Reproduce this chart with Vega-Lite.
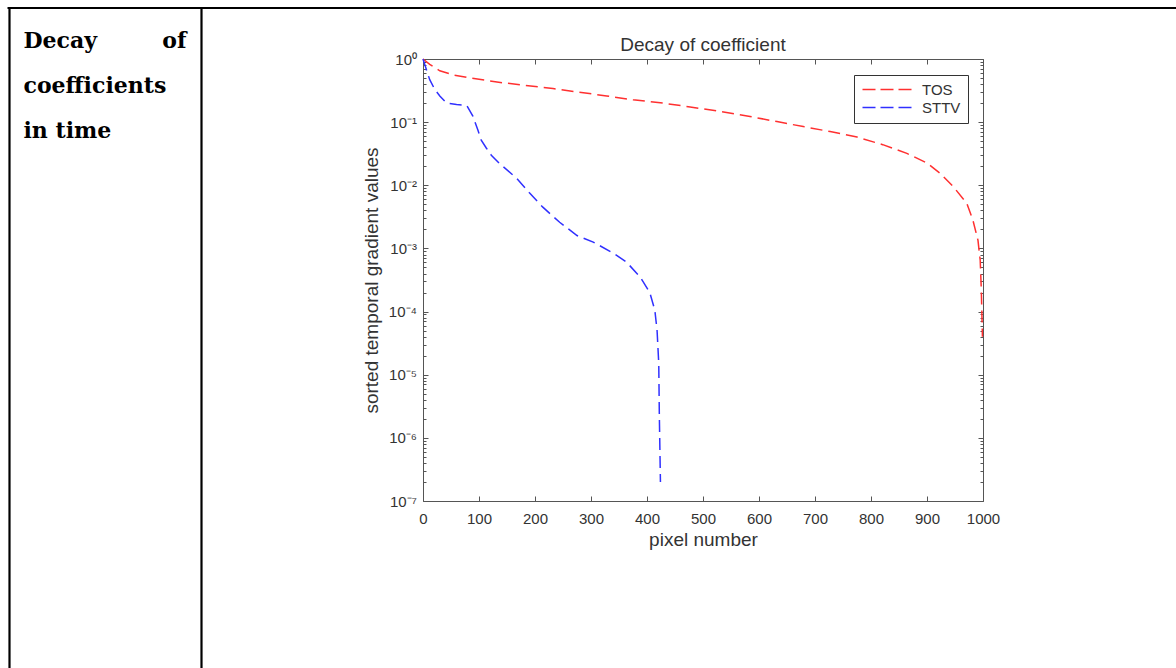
{
  "$schema": "https://vega.github.io/schema/vega-lite/v6.json",
  "autosize": {"type": "none"},
  "padding": {"left": 423, "top": 59, "right": 193, "bottom": 167},
  "width": 560,
  "height": 442,
  "background": "white",
  "title": {"text": "Decay of coefficient", "font": "Liberation Sans", "fontSize": 19, "fontWeight": "normal", "color": "#333333", "anchor": "middle", "frame": "group", "baseline": "alphabetic", "offset": -66},
  "config": {
    "view": {"stroke": null},
    "axis": {"grid": false, "labelFont": "Liberation Sans", "labelFontSize": 15, "labelColor": "#333333", "titleFont": "Liberation Sans", "titleFontSize": 19, "titleFontWeight": "normal", "titleColor": "#333333", "domainColor": "#555555", "tickColor": "#555555", "labelFlush": false, "labelOverlap": false}
  },
  "data": {"values": [
    {"series": "TOS", "x": 0, "v": 1},
    {"series": "TOS", "x": 12, "v": 0.82},
    {"series": "TOS", "x": 30, "v": 0.65},
    {"series": "TOS", "x": 54, "v": 0.56},
    {"series": "TOS", "x": 84, "v": 0.5},
    {"series": "TOS", "x": 143, "v": 0.42},
    {"series": "TOS", "x": 232, "v": 0.34},
    {"series": "TOS", "x": 328, "v": 0.26},
    {"series": "TOS", "x": 375, "v": 0.226},
    {"series": "TOS", "x": 429, "v": 0.2},
    {"series": "TOS", "x": 477, "v": 0.174},
    {"series": "TOS", "x": 530, "v": 0.148},
    {"series": "TOS", "x": 584, "v": 0.123},
    {"series": "TOS", "x": 632, "v": 0.102},
    {"series": "TOS", "x": 679, "v": 0.085},
    {"series": "TOS", "x": 727, "v": 0.071},
    {"series": "TOS", "x": 775, "v": 0.058},
    {"series": "TOS", "x": 821, "v": 0.044},
    {"series": "TOS", "x": 864, "v": 0.032},
    {"series": "TOS", "x": 900, "v": 0.0225},
    {"series": "TOS", "x": 923, "v": 0.0156},
    {"series": "TOS", "x": 947, "v": 0.0095},
    {"series": "TOS", "x": 971, "v": 0.0052},
    {"series": "TOS", "x": 982, "v": 0.0028},
    {"series": "TOS", "x": 991, "v": 0.00135},
    {"series": "TOS", "x": 995, "v": 0.00065},
    {"series": "TOS", "x": 997, "v": 0.00022},
    {"series": "TOS", "x": 999, "v": 0.00004},
    {"series": "STTV", "x": 0, "v": 1},
    {"series": "STTV", "x": 6, "v": 0.68},
    {"series": "STTV", "x": 12, "v": 0.47},
    {"series": "STTV", "x": 21, "v": 0.33},
    {"series": "STTV", "x": 30, "v": 0.26},
    {"series": "STTV", "x": 42, "v": 0.2},
    {"series": "STTV", "x": 60, "v": 0.19},
    {"series": "STTV", "x": 78, "v": 0.185},
    {"series": "STTV", "x": 89, "v": 0.125},
    {"series": "STTV", "x": 98, "v": 0.075},
    {"series": "STTV", "x": 104, "v": 0.052},
    {"series": "STTV", "x": 113, "v": 0.039},
    {"series": "STTV", "x": 122, "v": 0.03},
    {"series": "STTV", "x": 137, "v": 0.022},
    {"series": "STTV", "x": 167, "v": 0.013},
    {"series": "STTV", "x": 190, "v": 0.0076},
    {"series": "STTV", "x": 214, "v": 0.0045},
    {"series": "STTV", "x": 244, "v": 0.0026},
    {"series": "STTV", "x": 275, "v": 0.0016},
    {"series": "STTV", "x": 304, "v": 0.00126},
    {"series": "STTV", "x": 340, "v": 0.00084},
    {"series": "STTV", "x": 364, "v": 0.0006},
    {"series": "STTV", "x": 388, "v": 0.00035},
    {"series": "STTV", "x": 405, "v": 0.0002},
    {"series": "STTV", "x": 414, "v": 0.000105},
    {"series": "STTV", "x": 418, "v": 0.00005},
    {"series": "STTV", "x": 421, "v": 0.000015},
    {"series": "STTV", "x": 422, "v": 0.0000024},
    {"series": "STTV", "x": 424, "v": 0.0000002}
  ]},
  "resolve": {"scale": {"x": "independent", "y": "independent"}, "axis": {"x": "independent", "y": "independent"}},
  "layer": [
    {
      "mark": {"type": "line", "strokeWidth": 1.5, "strokeDash": [12, 6]},
      "encoding": {
        "x": {"field": "x", "type": "quantitative", "scale": {"domain": [0, 1000], "nice": false, "zero": false},
          "axis": {"orient": "bottom", "values": [0, 100, 200, 300, 400, 500, 600, 700, 800, 900, 1000], "format": "d", "tickSize": -5, "labelPadding": 15, "title": "pixel number", "titleX": 280, "titleY": 44, "titleBaseline": "alphabetic", "titleAlign": "center"}},
        "y": {"field": "v", "type": "quantitative", "scale": {"type": "log", "domain": [0.0000001, 1], "nice": false},
          "axis": {"orient": "left", "values": [1, 0.1, 0.01, 0.001, 0.0001, 0.00001, 0.000001, 0.0000001], "tickSize": -5, "labelPadding": 11.5,
            "labelExpr": "datum.value >= 0.5 ? '10⁰' : datum.value >= 0.05 ? '10⁻¹' : datum.value >= 0.005 ? '10⁻²' : datum.value >= 0.0005 ? '10⁻³' : datum.value >= 0.00005 ? '10⁻⁴' : datum.value >= 0.000005 ? '10⁻⁵' : datum.value >= 0.0000005 ? '10⁻⁶' : '10⁻⁷'",
            "title": "sorted temporal gradient values", "titleX": -46, "titleY": 221, "titleAngle": -90, "titleAlign": "center", "titleBaseline": "alphabetic"}},
        "color": {"field": "series", "type": "nominal", "scale": {"domain": ["TOS", "STTV"], "range": ["#ff3030", "#3030ff"]},
          "legend": {"orient": "none", "legendX": 431, "legendY": 16, "title": null, "direction": "vertical", "symbolType": "M-8,0H1", "symbolSize": 144, "symbolStrokeWidth": 1.5, "symbolDash": [13, 5], "symbolOffset": 42, "labelOffset": 4, "labelFont": "Liberation Sans", "labelFontSize": 15, "labelColor": "#333333", "padding": 7, "rowPadding": 2, "strokeColor": "#333333", "fillColor": "white", "cornerRadius": 0}}
      }
    },
    {
      "mark": {"type": "point", "opacity": 0},
      "encoding": {
        "x": {"field": "x", "type": "quantitative", "scale": {"domain": [0, 1000], "nice": false, "zero": false},
          "axis": {"orient": "top", "values": [0, 100, 200, 300, 400, 500, 600, 700, 800, 900, 1000], "tickSize": -5, "labels": false, "title": null}},
        "y": {"field": "v", "type": "quantitative", "scale": {"type": "log", "domain": [0.0000001, 1], "nice": false},
          "axis": {"orient": "right", "values": [1, 0.1, 0.01, 0.001, 0.0001, 0.00001, 0.000001, 0.0000001], "tickSize": -5, "labels": false, "title": null}}
      }
    },
    {
      "mark": {"type": "point", "opacity": 0},
      "encoding": {
        "y": {"field": "v", "type": "quantitative", "scale": {"type": "log", "domain": [0.0000001, 1], "nice": false},
          "axis": {"orient": "left", "values": [2e-7, 3e-7, 4e-7, 5e-7, 6e-7, 7e-7, 8e-7, 9e-7, 2e-6, 3e-6, 4e-6, 5e-6, 6e-6, 7e-6, 8e-6, 9e-6, 2e-5, 3e-5, 4e-5, 5e-5, 6e-5, 7e-5, 8e-5, 9e-5, 2e-4, 3e-4, 4e-4, 5e-4, 6e-4, 7e-4, 8e-4, 9e-4, 2e-3, 3e-3, 4e-3, 5e-3, 6e-3, 7e-3, 8e-3, 9e-3, 2e-2, 3e-2, 4e-2, 5e-2, 6e-2, 7e-2, 8e-2, 9e-2, 2e-1, 3e-1, 4e-1, 5e-1, 6e-1, 7e-1, 8e-1, 9e-1], "tickSize": -3, "labels": false, "domain": false, "title": null}}
      }
    },
    {
      "mark": {"type": "point", "opacity": 0},
      "encoding": {
        "y": {"field": "v", "type": "quantitative", "scale": {"type": "log", "domain": [0.0000001, 1], "nice": false},
          "axis": {"orient": "right", "values": [2e-7, 3e-7, 4e-7, 5e-7, 6e-7, 7e-7, 8e-7, 9e-7, 2e-6, 3e-6, 4e-6, 5e-6, 6e-6, 7e-6, 8e-6, 9e-6, 2e-5, 3e-5, 4e-5, 5e-5, 6e-5, 7e-5, 8e-5, 9e-5, 2e-4, 3e-4, 4e-4, 5e-4, 6e-4, 7e-4, 8e-4, 9e-4, 2e-3, 3e-3, 4e-3, 5e-3, 6e-3, 7e-3, 8e-3, 9e-3, 2e-2, 3e-2, 4e-2, 5e-2, 6e-2, 7e-2, 8e-2, 9e-2, 2e-1, 3e-1, 4e-1, 5e-1, 6e-1, 7e-1, 8e-1, 9e-1], "tickSize": -3, "labels": false, "domain": false, "title": null}}
      }
    },
    {
      "mark": {"type": "point", "opacity": 0},
      "encoding": {
        "x": {"field": "x", "type": "quantitative", "scale": {"domain": [0, 1000], "nice": false, "zero": false, "range": [-416, 753]},
          "axis": {"orient": "top", "offset": 51.5, "domainColor": "black", "domainWidth": 2.2, "ticks": false, "labels": false,
            "title": ["Decay", "coefficients", "in time"], "titleX": -400, "titleY": 39.5, "titleAlign": "left", "titleBaseline": "alphabetic", "titleAngle": 0, "titleFont": "DejaVu Serif", "titleFontSize": 22, "titleFontWeight": "bold", "titleColor": "black", "titleLineHeight": 45}},
        "y": {"field": "v", "type": "quantitative", "scale": {"type": "log", "domain": [0.0000001, 1], "nice": false, "range": [609, -52]},
          "axis": {"orient": "left", "offset": 414, "domainColor": "black", "domainWidth": 2.2, "ticks": false, "labels": false, "title": null}}
      }
    },
    {
      "mark": {"type": "point", "opacity": 0},
      "encoding": {
        "y": {"field": "v", "type": "quantitative", "scale": {"type": "log", "domain": [0.0000001, 1], "nice": false, "range": [609, -52]},
          "axis": {"orient": "left", "offset": 222, "domainColor": "black", "domainWidth": 2.2, "ticks": false, "labels": false,
            "title": "of", "titleX": -15, "titleY": -12, "titleAlign": "right", "titleBaseline": "alphabetic", "titleAngle": 0, "titleFont": "DejaVu Serif", "titleFontSize": 22, "titleFontWeight": "bold", "titleColor": "black"}}
      }
    }
  ]
}
